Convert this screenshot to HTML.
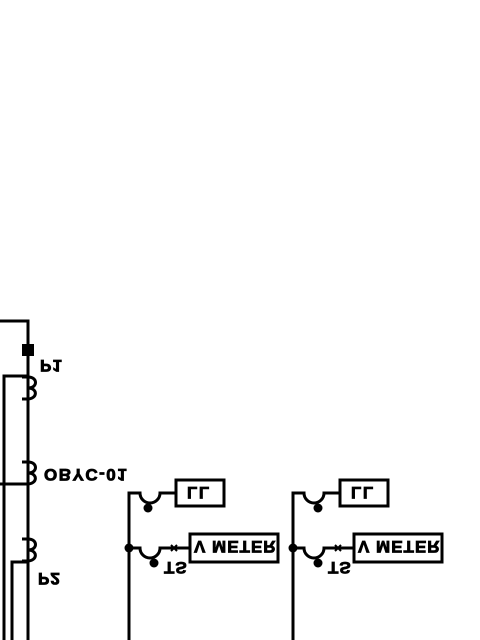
<!DOCTYPE html>
<html><head><meta charset="utf-8"><style>
html,body{margin:0;padding:0;background:#fff;width:480px;height:640px;overflow:hidden}
text{font-family:"Liberation Sans",sans-serif;font-weight:bold;fill:#000;stroke:#000;stroke-width:0.8px}
</style></head><body>
<svg width="480" height="640" viewBox="0 0 480 640" stroke="#000" stroke-width="3" fill="none">
<g>
<path d="M0 321 H28 V640"/>
<rect x="22" y="344" width="12" height="12" fill="#000" stroke="none"/>
<path d="M4 640 V376 H28"/>
<path d="M0 484 H28"/>
<path d="M12 640 V562 H28"/>
<path d="M22 377 h6 c10 0 10 11 0 11 c10 0 10 11 -1 11 h-5"/>
<path d="M22 462 h6 c10 0 10 11 0 11 c10 0 10 11 -1 11 h-5"/>
<path d="M22 539 h6 c10 0 10 11 0 11 c10 0 10 11 -1 11 h-5"/>
</g>
<g>
<text transform="translate(40,360) scale(1,-1)" font-size="17" letter-spacing="1">P1</text>
<text transform="translate(44,469) scale(1,-1)" font-size="17" letter-spacing="1.5">OBYC-01</text>
<text transform="translate(38,573) scale(1,-1)" font-size="17" letter-spacing="1">P2</text>
</g>
<g>
<path d="M129 640 V493 H140 a10 10 0 0 0 20 0 H176"/>
<rect x="176" y="480" width="48" height="26"/>
<circle cx="148" cy="508" r="4.5" fill="#000" stroke="none"/>
<circle cx="129" cy="548" r="4.5" fill="#000" stroke="none"/>
<path d="M129 548 H140 a10 10 0 0 0 20 0 H190"/>
<path d="M171 545 l6 6 M171 551 l6 -6" stroke-width="2"/>
<rect x="190" y="534" width="88" height="28"/>
<circle cx="154" cy="563" r="4.5" fill="#000" stroke="none"/>
<g>
<text transform="translate(187,487) scale(1,-1)" font-size="17" letter-spacing="1.5">LL</text>
<text transform="translate(194,541) scale(1,-1)" font-size="17" letter-spacing="1">V METER</text>
<text transform="translate(164,562) scale(1,-1)" font-size="17" letter-spacing="1">TS</text>
</g>
</g>
<g transform="translate(164,0)">
<path d="M129 640 V493 H140 a10 10 0 0 0 20 0 H176"/>
<rect x="176" y="480" width="48" height="26"/>
<circle cx="154" cy="508" r="4.5" fill="#000" stroke="none"/>
<circle cx="129" cy="548" r="4.5" fill="#000" stroke="none"/>
<path d="M129 548 H140 a10 10 0 0 0 20 0 H190"/>
<path d="M171 545 l6 6 M171 551 l6 -6" stroke-width="2"/>
<rect x="190" y="534" width="88" height="28"/>
<circle cx="154" cy="563" r="4.5" fill="#000" stroke="none"/>
<g>
<text transform="translate(187,487) scale(1,-1)" font-size="17" letter-spacing="1.5">LL</text>
<text transform="translate(194,541) scale(1,-1)" font-size="17" letter-spacing="1">V METER</text>
<text transform="translate(164,562) scale(1,-1)" font-size="17" letter-spacing="1">TS</text>
</g>
</g>
</svg>
</body></html>
